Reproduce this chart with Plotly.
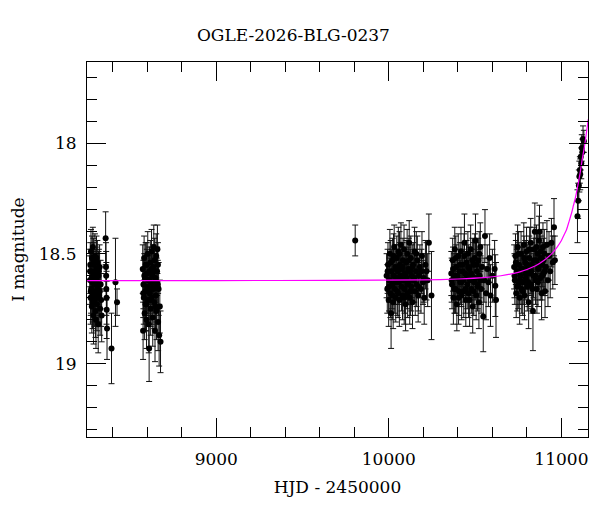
import plotly.graph_objects as go

# ---- data ----
s1_x = [8268, 8270, 8272, 8274, 8275, 8277, 8279, 8280, 8282, 8284, 8285, 8287, 8289, 8291, 8293, 8295, 8297, 8299, 8301, 8303, 8305, 8307, 8309, 8311, 8313, 8316, 8318, 8321, 8324, 8327, 8330, 8333, 8336, 8359, 8361, 8362, 8363, 8364, 8365, 8367, 8393, 8416, 8425,
        8269, 8273, 8278, 8283, 8288, 8292, 8296, 8300, 8306, 8310, 8315, 8320, 8325]
s1_m = [18.62, 18.55, 18.70, 18.49, 18.66, 18.58, 18.74, 18.52, 18.63, 18.69, 18.47, 18.60, 18.78, 18.55, 18.64, 18.71, 18.51, 18.59, 18.67, 18.80, 18.57, 18.62, 18.73, 18.54, 18.66, 18.82, 18.60, 18.69, 18.56, 18.75, 18.64, 18.71, 18.78, 18.43, 18.56, 18.60, 18.66, 18.70, 18.755, 18.84, 18.93, 18.63, 18.72,
        18.58, 18.67, 18.61, 18.72, 18.53, 18.69, 18.60, 18.76, 18.52, 18.64, 18.70, 18.58, 18.67]
s1_e = [0.11, 0.10, 0.12, 0.10, 0.11, 0.10, 0.12, 0.10, 0.11, 0.12, 0.09, 0.11, 0.13, 0.10, 0.11, 0.12, 0.10, 0.11, 0.12, 0.13, 0.10, 0.11, 0.12, 0.10, 0.11, 0.13, 0.11, 0.12, 0.10, 0.12, 0.11, 0.12, 0.12, 0.12, 0.11, 0.11, 0.12, 0.12, 0.13, 0.14, 0.16, 0.20, 0.06,
        0.10, 0.11, 0.10, 0.12, 0.10, 0.11, 0.10, 0.12, 0.10, 0.11, 0.12, 0.10, 0.11]

s2_x = [8574, 8576, 8578, 8580, 8582, 8585, 8587, 8589, 8591, 8594, 8596, 8598, 8600, 8603, 8605, 8607, 8609, 8611, 8613, 8615, 8618, 8620, 8622, 8625, 8627, 8629, 8632, 8634, 8636, 8638, 8640, 8643, 8645, 8647, 8650, 8652, 8654, 8657, 8659, 8661, 8663, 8666, 8669, 8673, 8677,
        8577, 8583, 8590, 8597, 8604, 8612, 8619, 8626, 8633, 8641, 8648, 8655, 8662]
s2_m = [18.57, 18.85, 18.64, 18.70, 18.52, 18.77, 18.61, 18.67, 18.55, 18.73, 18.80, 18.59, 18.65, 18.50, 18.71, 18.62, 18.82, 18.93, 18.58, 18.68, 18.54, 18.75, 18.63, 18.49, 18.70, 18.60, 18.79, 18.56, 18.66, 18.47, 18.72, 18.53, 18.85, 18.61, 18.69, 18.51, 18.76, 18.58, 18.48, 18.64, 18.81, 18.66, 18.87, 18.74, 18.90,
        18.68, 18.60, 18.73, 18.55, 18.66, 18.62, 18.71, 18.57, 18.65, 18.58, 18.74, 18.63, 18.55]
s2_e = [0.11, 0.13, 0.11, 0.12, 0.10, 0.12, 0.11, 0.11, 0.10, 0.12, 0.13, 0.11, 0.11, 0.10, 0.12, 0.11, 0.13, 0.15, 0.11, 0.12, 0.10, 0.12, 0.11, 0.10, 0.12, 0.11, 0.13, 0.10, 0.11, 0.10, 0.12, 0.10, 0.14, 0.11, 0.12, 0.10, 0.13, 0.11, 0.11, 0.11, 0.13, 0.12, 0.14, 0.12, 0.14,
        0.11, 0.10, 0.12, 0.10, 0.11, 0.11, 0.12, 0.10, 0.11, 0.10, 0.12, 0.11, 0.10]

s0_x = [9805]
s0_m = [18.44]
s0_e = [0.07]

s3_x = [9987, 9991, 9995, 9999, 10003, 10006, 10009, 10013, 10016, 10019, 10022, 10025, 10028, 10031, 10034, 10037, 10040, 10043, 10046, 10049, 10052, 10055, 10058, 10061, 10064, 10067, 10070, 10073, 10076, 10079, 10082, 10085, 10088, 10091, 10094, 10097, 10100, 10103, 10106, 10109, 10112, 10115, 10118, 10121, 10124, 10127, 10130, 10133, 10137, 10141, 10145, 10149, 10153, 10157, 10161, 10165, 10170, 10175, 10180, 10186, 10192, 10198, 10205, 10212, 10218, 10225, 10232, 10247,
        9993, 10001, 10011, 10020, 10027, 10036, 10044, 10053, 10062, 10071, 10080, 10089, 10098, 10107, 10116, 10126, 10135, 10147, 10159, 10172, 10189, 10202]
s3_m = [18.60, 18.66, 18.55, 18.71, 18.62, 18.50, 18.68, 18.77, 18.58, 18.64, 18.53, 18.72, 18.60, 18.47, 18.66, 18.56, 18.70, 18.61, 18.52, 18.67, 18.58, 18.49, 18.63, 18.71, 18.55, 18.60, 18.46, 18.65, 18.57, 18.69, 18.53, 18.62, 18.48, 18.66, 18.59, 18.73, 18.54, 18.61, 18.50, 18.68, 18.57, 18.63, 18.45, 18.70, 18.58, 18.52, 18.65, 18.60, 18.72, 18.55, 18.62, 18.49, 18.67, 18.58, 18.64, 18.53, 18.69, 18.60, 18.56, 18.66, 18.51, 18.63, 18.70, 18.55, 18.58, 18.62, 18.45, 18.69,
        18.58, 18.65, 18.54, 18.69, 18.51, 18.63, 18.57, 18.68, 18.50, 18.61, 18.56, 18.70, 18.59, 18.64, 18.53, 18.67, 18.56, 18.61, 18.50, 18.65, 18.58, 18.61]
s3_e = [0.10, 0.11, 0.10, 0.12, 0.10, 0.11, 0.11, 0.16, 0.10, 0.11, 0.10, 0.12, 0.10, 0.10, 0.11, 0.10, 0.11, 0.10, 0.10, 0.11, 0.10, 0.11, 0.10, 0.12, 0.10, 0.10, 0.10, 0.11, 0.10, 0.11, 0.10, 0.10, 0.11, 0.11, 0.10, 0.12, 0.10, 0.10, 0.11, 0.11, 0.10, 0.10, 0.10, 0.12, 0.10, 0.10, 0.11, 0.10, 0.12, 0.10, 0.10, 0.11, 0.11, 0.10, 0.10, 0.11, 0.12, 0.10, 0.10, 0.11, 0.11, 0.10, 0.12, 0.11, 0.13, 0.12, 0.13, 0.20,
        0.10, 0.11, 0.10, 0.11, 0.10, 0.10, 0.11, 0.11, 0.10, 0.10, 0.11, 0.12, 0.10, 0.11, 0.10, 0.11, 0.10, 0.11, 0.10, 0.11, 0.10, 0.11]

s4_x = [10362, 10366, 10370, 10374, 10378, 10382, 10386, 10390, 10394, 10398, 10402, 10406, 10410, 10414, 10418, 10422, 10426, 10430, 10434, 10438, 10442, 10446, 10450, 10454, 10458, 10462, 10466, 10470, 10474, 10478, 10482, 10486, 10490, 10494, 10498, 10502, 10506, 10510, 10514, 10518, 10522, 10526, 10530, 10535, 10540, 10547, 10552, 10557, 10563, 10570, 10577, 10584, 10589, 10600, 10613, 10617, 10621,
        10364, 10372, 10380, 10388, 10396, 10404, 10412, 10420, 10428, 10436, 10444, 10452, 10460, 10468, 10476, 10484, 10492, 10500, 10508, 10516, 10524, 10532]
s4_m = [18.59, 18.64, 18.53, 18.70, 18.60, 18.48, 18.66, 18.56, 18.73, 18.61, 18.51, 18.67, 18.58, 18.63, 18.49, 18.69, 18.55, 18.62, 18.67, 18.45, 18.59, 18.71, 18.54, 18.64, 18.50, 18.68, 18.57, 18.62, 18.48, 18.66, 18.60, 18.74, 18.55, 18.63, 18.52, 18.44, 18.69, 18.58, 18.65, 18.53, 18.72, 18.60, 18.47, 18.66, 18.56, 18.785, 18.62, 18.42, 18.68, 18.57, 18.63, 18.52, 18.69, 18.60, 18.57, 18.645, 18.71,
        18.62, 18.57, 18.66, 18.52, 18.60, 18.70, 18.55, 18.63, 18.58, 18.51, 18.66, 18.60, 18.56, 18.71, 18.59, 18.53, 18.67, 18.61, 18.55, 18.64, 18.50, 18.62]
s4_e = [0.10, 0.11, 0.10, 0.12, 0.10, 0.10, 0.11, 0.10, 0.12, 0.10, 0.10, 0.11, 0.10, 0.10, 0.11, 0.11, 0.10, 0.10, 0.12, 0.13, 0.10, 0.12, 0.10, 0.11, 0.10, 0.11, 0.10, 0.10, 0.11, 0.11, 0.10, 0.12, 0.10, 0.10, 0.11, 0.12, 0.11, 0.10, 0.11, 0.10, 0.12, 0.10, 0.11, 0.11, 0.10, 0.16, 0.10, 0.12, 0.12, 0.11, 0.11, 0.11, 0.14, 0.12, 0.13, 0.14, 0.17,
        0.10, 0.10, 0.11, 0.10, 0.10, 0.12, 0.10, 0.11, 0.10, 0.10, 0.11, 0.10, 0.10, 0.12, 0.10, 0.10, 0.11, 0.10, 0.10, 0.11, 0.10, 0.11]

s5_x = [10726, 10730, 10734, 10738, 10742, 10746, 10750, 10754, 10758, 10762, 10766, 10770, 10774, 10778, 10782, 10786, 10790, 10794, 10798, 10802, 10806, 10810, 10814, 10818, 10822, 10826, 10830, 10835, 10838, 10842, 10846, 10850, 10854, 10858, 10862, 10866, 10870, 10873, 10877, 10881, 10885, 10889, 10893, 10897, 10901, 10905, 10910, 10916, 10922, 10928, 10935, 10942, 10950, 10957, 10962,
        10728, 10736, 10744, 10752, 10760, 10768, 10776, 10784, 10792, 10800, 10808, 10816, 10824, 10832, 10840, 10848, 10856, 10864, 10872, 10880, 10888, 10896, 10904]
s5_m = [18.56, 18.62, 18.51, 18.68, 18.58, 18.47, 18.64, 18.55, 18.70, 18.60, 18.50, 18.66, 18.57, 18.63, 18.46, 18.69, 18.54, 18.61, 18.49, 18.65, 18.56, 18.72, 18.52, 18.59, 18.45, 18.64, 18.55, 18.76, 18.60, 18.48, 18.40, 18.62, 18.53, 18.66, 18.50, 18.57, 18.44, 18.40, 18.61, 18.52, 18.68, 18.55, 18.47, 18.59, 18.50, 18.67, 18.56, 18.46, 18.62, 18.51, 18.58, 18.45, 18.54, 18.38, 18.53,
        18.60, 18.54, 18.65, 18.50, 18.62, 18.57, 18.67, 18.52, 18.59, 18.55, 18.63, 18.48, 18.58, 18.66, 18.53, 18.60, 18.47, 18.63, 18.55, 18.49, 18.60, 18.53, 18.58]
s5_e = [0.10, 0.11, 0.10, 0.11, 0.10, 0.10, 0.11, 0.10, 0.12, 0.10, 0.10, 0.11, 0.10, 0.10, 0.10, 0.11, 0.10, 0.10, 0.11, 0.11, 0.10, 0.12, 0.10, 0.10, 0.11, 0.11, 0.10, 0.18, 0.10, 0.10, 0.13, 0.11, 0.10, 0.11, 0.10, 0.10, 0.11, 0.12, 0.10, 0.10, 0.12, 0.10, 0.11, 0.10, 0.11, 0.12, 0.11, 0.11, 0.12, 0.11, 0.12, 0.11, 0.12, 0.13, 0.11,
        0.10, 0.10, 0.11, 0.10, 0.11, 0.10, 0.11, 0.10, 0.10, 0.10, 0.11, 0.10, 0.10, 0.11, 0.10, 0.11, 0.10, 0.11, 0.10, 0.10, 0.11, 0.10, 0.11]

s6_x = [11093, 11097, 11101, 11104, 11107, 11109, 11112, 11115, 11118, 11121, 11125, 11130]
s6_m = [18.33, 18.26, 18.19, 18.15, 18.12, 18.14, 18.06, 18.09, 18.02, 18.04, 17.98, 17.99]
s6_e = [0.12, 0.08, 0.07, 0.07, 0.06, 0.07, 0.06, 0.07, 0.06, 0.06, 0.06, 0.05]

# model curve
curve_x = [8250, 9000, 9700, 10200, 10400, 10550, 10650, 10750, 10850, 10900, 10950, 10975, 11000, 11015, 11030, 11045, 11060, 11070, 11080, 11090, 11100, 11108, 11115, 11122, 11130, 11138, 11145, 11150, 11155]
curve_m = [18.622, 18.622, 18.621, 18.619, 18.615, 18.609, 18.600, 18.585, 18.555, 18.530, 18.495, 18.470, 18.440, 18.415, 18.390, 18.352, 18.312, 18.280, 18.250, 18.212, 18.170, 18.135, 18.100, 18.065, 18.030, 17.990, 17.950, 17.922, 17.890]

title_text = "OGLE-2026-BLG-0237"
x_title = "HJD - 2450000"
y_title = "I magnitude"

obs_x = s1_x + s2_x + s0_x + s3_x + s4_x + s5_x + s6_x
obs_m = s1_m + s2_m + s0_m + s3_m + s4_m + s5_m + s6_m
obs_e = s1_e + s2_e + s0_e + s3_e + s4_e + s5_e + s6_e

FONT = "DejaVu Serif"

fig = go.Figure()
fig.add_trace(go.Scatter(
    x=obs_x, y=obs_m, mode="markers",
    marker=dict(color="black", size=6),
    error_y=dict(type="data", array=obs_e, visible=True, color="#111111", thickness=1, width=3),
    showlegend=False,
))
fig.add_trace(go.Scatter(
    x=curve_x, y=curve_m, mode="lines",
    line=dict(color="#ff00ff", width=1.2, shape="spline", smoothing=0.5),
    hoverinfo="skip", showlegend=False,
))

axis_common = dict(
    showline=True, linecolor="black", linewidth=1, mirror="allticks",
    ticks="inside", ticklen=19, tickwidth=1, tickcolor="black",
    showgrid=False, zeroline=False, automargin=False,
    tickfont=dict(family=FONT, size=17, color="black"),
)

fig.update_xaxes(
    range=[8251, 11154], tick0=0, dtick=1000, tickformat="d",
    minor=dict(ticks="inside", ticklen=10, tickcolor="black", dtick=200, tick0=0, showgrid=False),
    ticklabelstandoff=7,
    title=dict(text=x_title, font=dict(family=FONT, size=17, color="black"), standoff=12),
    **axis_common,
)
fig.update_yaxes(
    range=[19.332, 17.630], tick0=0, dtick=0.5,
    minor=dict(ticks="inside", ticklen=10, tickcolor="black", dtick=0.1, tick0=0, showgrid=False),
    ticklabelstandoff=6,
    title=dict(text=y_title, font=dict(family=FONT, size=17, color="black"), standoff=14),
    **axis_common,
)

fig.update_layout(
    width=600, height=512,
    margin=dict(l=79, r=20, t=54, b=83),
    paper_bgcolor="white", plot_bgcolor="white",
    title=dict(text=title_text, x=0.412, xref="paper", xanchor="center",
               y=1 - 27 / 512, yref="container", yanchor="middle",
               font=dict(family=FONT, size=17, color="black")),
)

fig.write_html("out.html")
